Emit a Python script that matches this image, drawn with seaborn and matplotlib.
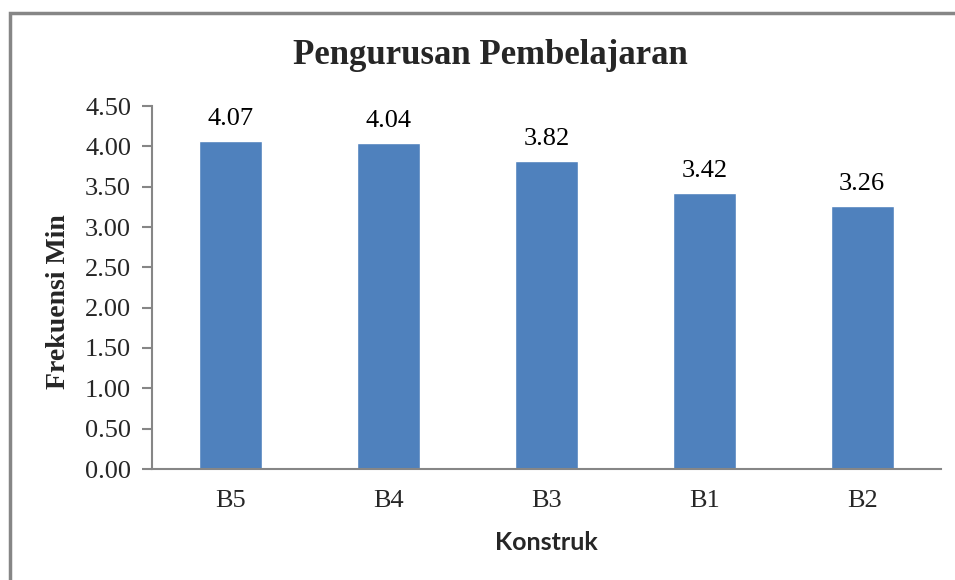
import matplotlib
matplotlib.use("Agg")
import matplotlib.pyplot as plt
import seaborn as sns
import pandas as pd
from matplotlib.patches import Rectangle

categories = ["B5", "B4", "B3", "B1", "B2"]
values = [4.07, 4.04, 3.82, 3.42, 3.26]
yticks = [0.0, 0.5, 1.0, 1.5, 2.0, 2.5, 3.0, 3.5, 4.0, 4.5]

sns.set_theme(style="white")
plt.rcParams["font.family"] = ["Liberation Serif", "DejaVu Serif"]

df = pd.DataFrame({"Konstruk": categories, "Nilai": values})

fig = plt.figure(figsize=(9.55, 5.8), dpi=100)
fig.patches.append(Rectangle((10 / 955, -0.05), 1.0, 1 - 13 / 580 + 0.05,
                             transform=fig.transFigure, fill=False,
                             edgecolor="#868686", linewidth=2.5))
ax = fig.add_axes([152 / 955, 1 - 469 / 580, (941 - 152) / 955, (469 - 106) / 580])

sns.barplot(data=df, x="Konstruk", y="Nilai", order=categories, color="#4F81BD",
            saturation=1, width=0.4, ax=ax)

for i, v in enumerate(values):
    ax.annotate(f"{v:.2f}", (i, v), xytext=(0, 8), textcoords="offset points",
                ha="center", va="bottom", fontsize=19, color="black")

ax.set_ylim(0, 4.5)
ax.set_yticks(yticks)
ax.set_yticklabels([f"{t:.2f}" for t in yticks], fontsize=19)
ax.set_xticklabels(categories, fontsize=19)
ax.tick_params(axis="y", which="major", direction="out", length=7, width=1.5,
               color="#868686", pad=8, left=True)
ax.tick_params(axis="x", length=0, pad=15)

for s in ["top", "right"]:
    ax.spines[s].set_visible(False)
for s in ["left", "bottom"]:
    ax.spines[s].set_color("#868686")
    ax.spines[s].set_linewidth(1.5)

ax.set_ylabel("Frekuensi Min", fontsize=20, fontweight="bold")
ax.yaxis.set_label_coords(-0.103, 0.46)
ax.set_xlabel("Konstruk", fontsize=18, fontweight="bold",
              family=["Lato", "DejaVu Sans"], labelpad=14)

fig.text(490 / 955, 1 - 56 / 580, "Pengurusan Pembelajaran", ha="center", va="center",
         fontsize=25, fontweight="bold")

fig.savefig("out.png", dpi=100)
